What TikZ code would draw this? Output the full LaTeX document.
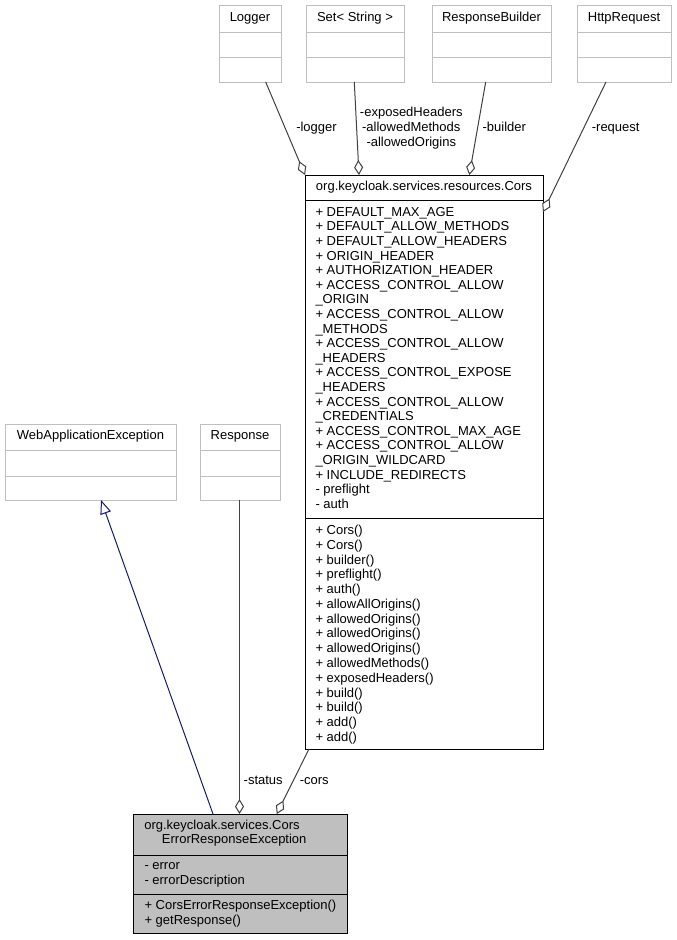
\documentclass[tikz,border=0pt]{standalone}
\usepackage{fontspec}
\setmainfont{Liberation Sans}
\usetikzlibrary{arrows.meta}
\definecolor{boxgray}{HTML}{BFBFBF}
\definecolor{linegray}{HTML}{404040}
\definecolor{genblue}{HTML}{191970}
\definecolor{fillgray}{HTML}{BFBFBF}
\tikzset{
  umltext/.style={inner sep=0pt, outer sep=0pt, font=\fontsize{13}{14.6}\selectfont, anchor=base west},
  umlcentre/.style={umltext, anchor=base},
  extbox/.style={draw=boxgray, fill=white, line width=1pt, inner sep=0pt, outer sep=0pt, anchor=north west},
  mainbox/.style={draw=black, fill=white, line width=1pt, inner sep=0pt, outer sep=0pt, anchor=north west},
  focusbox/.style={draw=black, fill=fillgray, line width=1pt, inner sep=0pt, outer sep=0pt, anchor=north west},
  assoc/.style={draw=linegray, line width=1pt, -{Diamond[fill=white,length=15pt,width=9pt]}},
  gener/.style={draw=genblue, line width=1pt, -{Triangle[fill=white,length=14pt,width=11pt]}},
}
% name, style, separator colour, x, y, width, height, sep1, sep2
\newcommand\umlbox[9]{%
  \node[#2, minimum width=#6pt, minimum height=#7pt] (#1) at (#4,#5) {};
  \draw[draw=#3, line width=1pt] (#1.west |- 0,#8) -- (#1.east |- 0,#8);
  \draw[draw=#3, line width=1pt] (#1.west |- 0,#9) -- (#1.east |- 0,#9);
}
\begin{document}
\begin{tikzpicture}[x=1pt,y=-1pt]
\useasboundingbox (0,0) rectangle (677,940);

% top classes
\umlbox{logger}{extbox}{boxgray}{219}{5}{62}{77}{32}{57}
\node[umlcentre] (logger-t) at (250,21) {Logger};
\umlbox{setstr}{extbox}{boxgray}{306}{5}{98}{77}{32}{57}
\node[umlcentre] (setstr-t) at (355,21) {Set< String >};
\umlbox{rbuilder}{extbox}{boxgray}{432}{5}{119}{77}{32}{57}
\node[umlcentre] (rbuilder-t) at (491.5,21) {ResponseBuilder};
\umlbox{httpreq}{extbox}{boxgray}{577}{5}{94}{77}{32}{57}
\node[umlcentre] (httpreq-t) at (624,21) {HttpRequest};

% Cors
\umlbox{cors}{mainbox}{black}{305}{175}{238}{574}{200}{518}
\node[umlcentre] (cors-t) at (424,190.5) {org.keycloak.services.resources.Cors};
\foreach \t [count=\i from 0] in {
  {+ DEFAULT\_MAX\_AGE},
  {+ DEFAULT\_ALLOW\_METHODS},
  {+ DEFAULT\_ALLOW\_HEADERS},
  {+ ORIGIN\_HEADER},
  {+ AUTHORIZATION\_HEADER},
  {+ ACCESS\_CONTROL\_ALLOW},
  {\_ORIGIN},
  {+ ACCESS\_CONTROL\_ALLOW},
  {\_METHODS},
  {+ ACCESS\_CONTROL\_ALLOW},
  {\_HEADERS},
  {+ ACCESS\_CONTROL\_EXPOSE},
  {\_HEADERS},
  {+ ACCESS\_CONTROL\_ALLOW},
  {\_CREDENTIALS},
  {+ ACCESS\_CONTROL\_MAX\_AGE},
  {+ ACCESS\_CONTROL\_ALLOW},
  {\_ORIGIN\_WILDCARD},
  {+ INCLUDE\_REDIRECTS},
  {- preflight},
  {- auth}}
  \node[umltext] (cors-a\i) at (315.5,216.3+14.6*\i) {\t};
\foreach \t [count=\i from 0] in {
  {+ Cors()},
  {+ Cors()},
  {+ builder()},
  {+ preflight()},
  {+ auth()},
  {+ allowAllOrigins()},
  {+ allowedOrigins()},
  {+ allowedOrigins()},
  {+ allowedOrigins()},
  {+ allowedMethods()},
  {+ exposedHeaders()},
  {+ build()},
  {+ build()},
  {+ add()},
  {+ add()}}
  \node[umltext] (cors-m\i) at (315.5,534.5+14.78*\i) {\t};

% left classes
\umlbox{wae}{extbox}{boxgray}{5}{424}{171}{76}{450}{476}
\node[umlcentre] (wae-t) at (90.5,439.5) {WebApplicationException};
\umlbox{resp}{extbox}{boxgray}{200}{424}{80}{76}{450}{476}
\node[umlcentre] (resp-t) at (240,439.5) {Response};

% focus class
\umlbox{cere}{focusbox}{black}{133}{814}{214}{119}{855}{894}
\node[umlcentre] (cere-t1) at (222,829.5) {org.keycloak.services.Cors};
\node[umlcentre] (cere-t2) at (234.2,843.5) {ErrorResponseException};
\node[umltext] (cere-a0) at (144.5,869.5) {- error};
\node[umltext] (cere-a1) at (144.5,884) {- errorDescription};
\node[umltext] (cere-m0) at (144.5,909.3) {+ CorsErrorResponseException()};
\node[umltext] (cere-m1) at (144.5,924) {+ getResponse()};

% connectors
\draw[assoc] ([xshift=15.7pt]logger.south) -- (cors.north west);
\draw[assoc] ([xshift=-0.7pt]setstr.south) -- ([xshift=54pt]cors.north west);
\draw[assoc] ([xshift=-5.8pt]rbuilder.south) -- ([xshift=164.3pt]cors.north west);
\draw[assoc] ([xshift=-18pt]httpreq.south) -- ([yshift=-37pt]cors.north east);
\draw[gener] ([xshift=80pt]cere.north west) -- ([xshift=10.5pt]wae.south);
\draw[assoc] ([xshift=-0.5pt]resp.south) -- ([xshift=106.5pt]cere.north west);
\draw[assoc] ([xshift=4pt]cors.south west) -- ([xshift=143.7pt]cere.north west);

% labels
\node[umlcentre] (l-logger) at (316.5,131) {-logger};
\node[umlcentre] (l-set1) at (411.3,116.6) {-exposedHeaders};
\node[umlcentre] (l-set2) at (411.3,131) {-allowedMethods};
\node[umlcentre] (l-set3) at (411.3,146) {-allowedOrigins};
\node[umlcentre] (l-builder) at (504.3,131) {-builder};
\node[umlcentre] (l-request) at (615.7,131) {-request};
\node[umlcentre] (l-status) at (263.2,784.5) {-status};
\node[umlcentre] (l-cors) at (314.2,784.5) {-cors};
\end{tikzpicture}
\end{document}
